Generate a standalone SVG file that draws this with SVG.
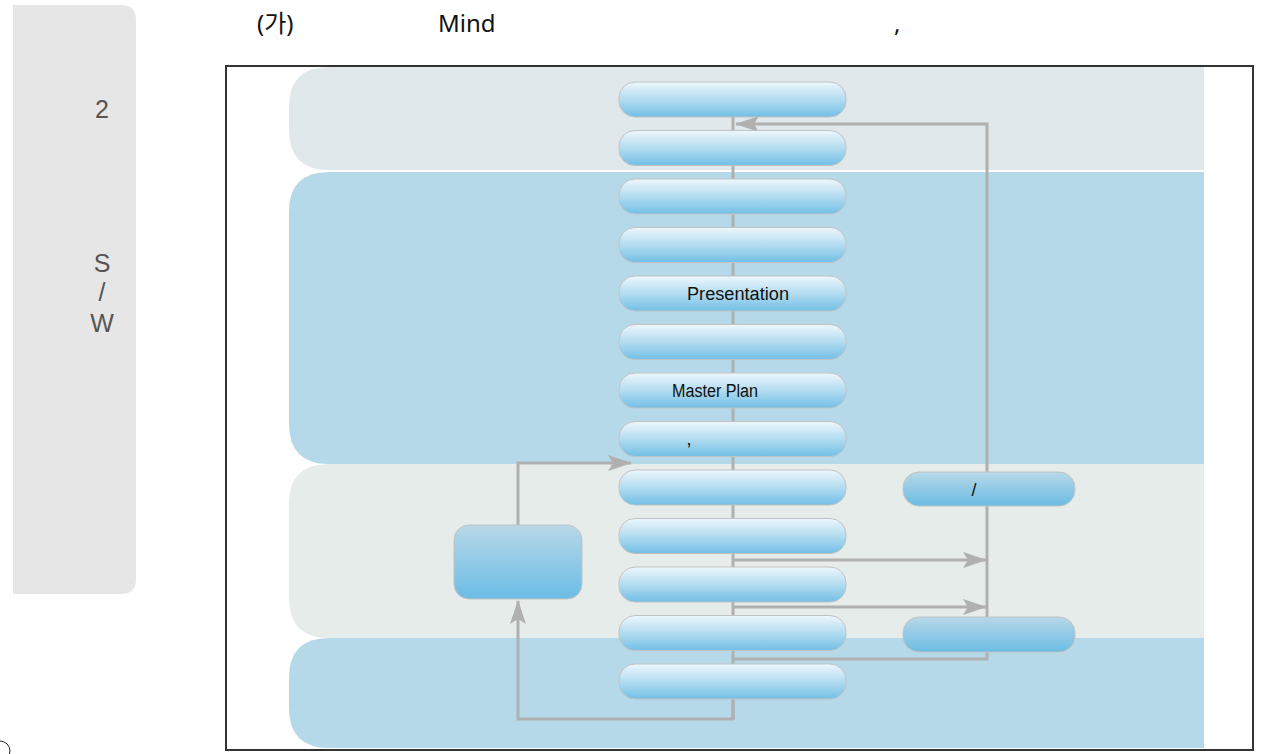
<svg xmlns="http://www.w3.org/2000/svg" width="1262" height="754" viewBox="0 0 1262 754">
<defs>
<linearGradient id="gMain" x1="0" y1="0" x2="0" y2="1">
<stop offset="0" stop-color="#eef7fd"/>
<stop offset="0.5" stop-color="#b3dcf0"/>
<stop offset="1" stop-color="#72bfe6"/>
</linearGradient>
<linearGradient id="gSide" x1="0" y1="0" x2="0" y2="1">
<stop offset="0" stop-color="#b8d8e8"/>
<stop offset="1" stop-color="#6bbce5"/>
</linearGradient>
<marker id="ah" markerWidth="24" markerHeight="16" refX="23" refY="8" orient="auto" markerUnits="userSpaceOnUse">
<path d="M0,0 L24,8 L0,16 L5,8 Z" fill="#b0b0b0"/>
</marker>
<style>
.main{fill:url(#gMain);stroke:#c2c2c2;stroke-width:1}
.side{fill:url(#gSide);stroke:#c2c2c2;stroke-width:1}
.conn{fill:none;stroke:#b0b0b0;stroke-width:3}
.lbl{font-family:"Liberation Sans",Arial,sans-serif;font-size:18px;fill:#111;text-anchor:middle}
.side-t{font-family:"Liberation Sans",Arial,sans-serif;font-size:25px;fill:#555;text-anchor:middle}
.title{font-family:"Noto Sans","Noto Sans CJK KR",sans-serif;font-size:24px;fill:#111}
</style>
</defs>

<!-- sidebar -->
<path d="M13,5 H121 Q136,5 136,20 V579 Q136,594 121,594 H13 Z" fill="#e6e6e6"/>
<text class="side-t" x="102" y="118">2</text>
<text class="side-t" x="102" y="272">S</text>
<text class="side-t" x="102" y="301">/</text>
<text class="side-t" x="102" y="332">W</text>

<!-- title -->
<text class="title" x="257" y="32">(가)</text>
<text class="title" x="438" y="32">Mind</text>
<text class="title" x="894" y="32">,</text>

<!-- frame -->
<rect x="226" y="66" width="1027" height="684" fill="#ffffff" stroke="#333333" stroke-width="2"/>

<!-- bands -->
<path d="M329,67 H1204 V170 H329 Q289,170 289,130 V107 Q289,67 329,67 Z" fill="#e0e8eb"/>
<path d="M329,172 H1204 V464 H329 Q289,464 289,424 V212 Q289,172 329,172 Z" fill="#b5d9e8"/>
<path d="M329,464 H1204 V638 H329 Q289,638 289,598 V504 Q289,464 329,464 Z" fill="#e5ecea"/>
<path d="M329,638 H1204 V748 H329 Q289,748 289,708 V678 Q289,638 329,638 Z" fill="#b5d9e8"/>

<!-- connectors -->
<g id="connectors">
<line class="conn" x1="733" y1="99" x2="733" y2="719"/>
<path class="conn" d="M733,659 H987 V124 H736" marker-end="url(#ah)"/>
<path class="conn" d="M733,560 H986" marker-end="url(#ah)"/>
<path class="conn" d="M733,607 H986" marker-end="url(#ah)"/>
<path class="conn" d="M518,525 V463 H631" marker-end="url(#ah)"/>
<path class="conn" d="M733,700 V719 H518 V601" marker-end="url(#ah)"/>
</g>

<!-- main nodes -->
<g id="n1"><rect class="main" x="619" y="82" width="227" height="35" rx="16"/></g>
<g id="n2"><rect class="main" x="619" y="130.5" width="227" height="35" rx="16"/></g>
<g id="n3"><rect class="main" x="619" y="179" width="227" height="35" rx="16"/></g>
<g id="n4"><rect class="main" x="619" y="227.5" width="227" height="35" rx="16"/></g>
<g id="n5"><rect class="main" x="619" y="276" width="227" height="35" rx="16"/><text class="lbl" x="738" y="300" textLength="102" lengthAdjust="spacingAndGlyphs">Presentation</text></g>
<g id="n6"><rect class="main" x="619" y="324.5" width="227" height="35" rx="16"/></g>
<g id="n7"><rect class="main" x="619" y="373" width="227" height="35" rx="16"/><text class="lbl" x="715" y="397" textLength="86" lengthAdjust="spacingAndGlyphs">Master Plan</text></g>
<g id="n8"><rect class="main" x="619" y="421.5" width="227" height="35" rx="16"/><text class="lbl" x="689" y="445">,</text></g>
<g id="n9"><rect class="main" x="619" y="470" width="227" height="35" rx="16"/></g>
<g id="n10"><rect class="main" x="619" y="518.5" width="227" height="35" rx="16"/></g>
<g id="n11"><rect class="main" x="619" y="567" width="227" height="35" rx="16"/></g>
<g id="n12"><rect class="main" x="619" y="615.5" width="227" height="35" rx="16"/></g>
<g id="n13"><rect class="main" x="619" y="664" width="227" height="35" rx="16"/></g>

<!-- side nodes -->
<g id="s1"><rect class="side" x="903" y="472" width="172" height="34" rx="16"/><text class="lbl" x="974" y="496">/</text></g>
<g id="s2"><rect class="side" x="903" y="617" width="172" height="35" rx="16"/></g>
<g id="left"><rect class="side" x="454" y="525" width="128" height="74" rx="15"/></g>

<!-- corner mark -->
<circle cx="0" cy="751" r="10" fill="none" stroke="#222" stroke-width="1"/>
</svg>
